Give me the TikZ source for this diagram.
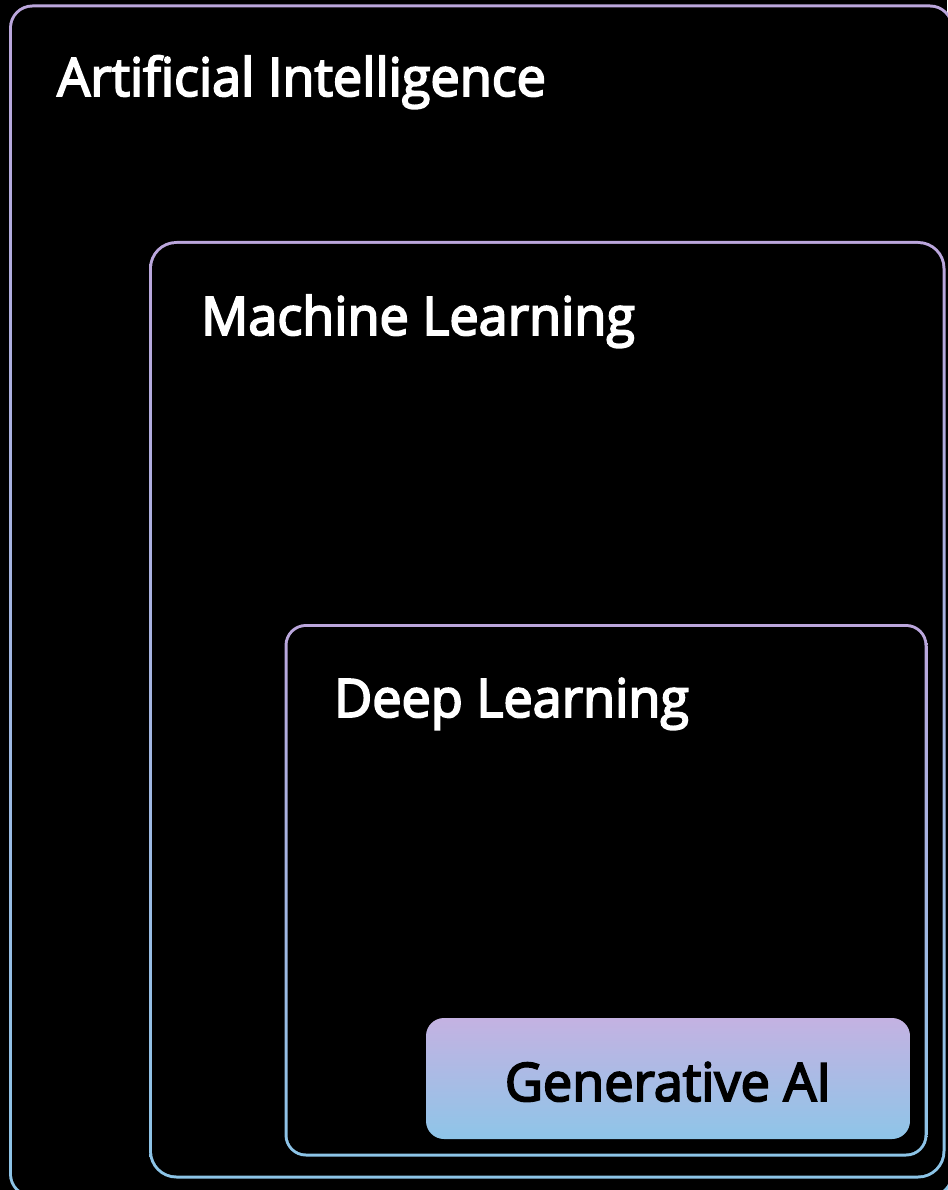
\documentclass[tikz,border=0pt]{standalone}
\usepackage{fontspec}
\setmainfont{Open Sans}[BoldFont={Open Sans}, BoldFeatures={FakeBold=3.5, FakeStretch=0.985}]
\definecolor{bordtop}{HTML}{BBA6DC}
\definecolor{bordbot}{HTML}{8CC4E7}
\definecolor{gentop}{HTML}{C4B2E2}
\definecolor{genbot}{HTML}{8EC5E8}
\tikzset{
  lbl/.style={inner sep=0pt, text=white, font=\fontsize{53}{60}\selectfont\bfseries},
  ringshade/.style={top color=bordtop, bottom color=bordbot},
  genbox/.style={rounded corners=18pt, top color=gentop, bottom color=genbot,
    middle color=gentop!50!genbot, inner sep=0pt},
}
\begin{document}
\begin{tikzpicture}[x=1pt,y=-1pt]
\fill[black] (0,0) rectangle (947,1190);
\useasboundingbox (0,0) rectangle (947,1190);
% Artificial Intelligence box
\shade[ringshade, rounded corners=23.5pt] (9,4.5) rectangle (953.5,1197.5);
\fill[black, rounded corners=20.5pt] (12,7.5) rectangle (950.5,1194.5);
% Machine Learning box
\shade[ringshade, rounded corners=27.5pt] (149,241) rectangle (945.5,1178.5);
\fill[black, rounded corners=24.5pt] (152,244) rectangle (942.5,1175.5);
% Deep Learning box
\shade[ringshade, rounded corners=21.5pt] (284.5,624) rectangle (927.5,1156.5);
\fill[black, rounded corners=18.5pt] (287.5,627) rectangle (924.5,1153.5);
% labels
\node[lbl, anchor=base west] (ai) at (57,96) {Artificial Intelligence};
\node[lbl, anchor=base west] (ml) at (201,335) {Machine Learning};
\node[lbl, anchor=base west] (dl) at (334,717) {Deep Learning};
% Generative AI
\node[genbox, minimum width=484pt, minimum height=121pt] (gen) at (668,1078.5) {};
\node[lbl, text=black, anchor=base] (gentext) at (668,1101) {Generative AI};
\end{tikzpicture}
\end{document}
